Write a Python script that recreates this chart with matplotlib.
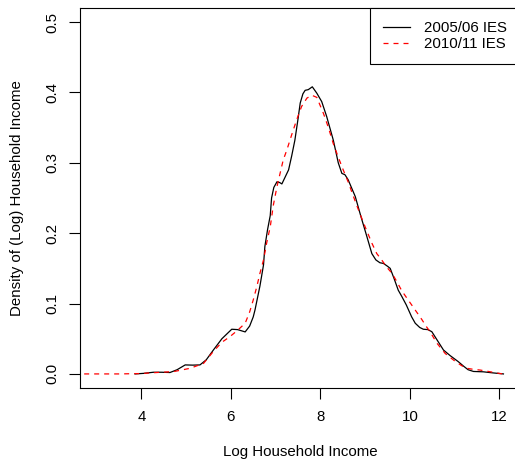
import matplotlib
matplotlib.use("Agg")
import matplotlib.pyplot as plt

plt.rcParams['font.family'] = ['Liberation Sans', 'DejaVu Sans']

# density of log household income
x_0506 = [3.86, 4.05, 4.27, 4.45, 4.64, 4.80, 4.98, 5.15, 5.31, 5.45, 5.61, 5.80,
          6.02, 6.15, 6.32, 6.42, 6.50, 6.54, 6.65, 6.73, 6.76, 6.82, 6.88, 6.91,
          6.96, 7.03, 7.09, 7.14, 7.20, 7.29, 7.36, 7.43, 7.50, 7.55, 7.61, 7.66,
          7.73, 7.82, 7.92, 8.03, 8.14, 8.29, 8.40, 8.48, 8.55, 8.62, 8.78, 8.90,
          9.04, 9.15, 9.24, 9.33, 9.41, 9.50, 9.56, 9.65, 9.74, 9.82, 9.92, 10.04,
          10.12, 10.22, 10.30, 10.40, 10.49, 10.62, 10.75, 10.90, 11.08, 11.20,
          11.30, 11.42, 11.64, 11.85, 12.09]
y_0506 = [0.0, 0.0008, 0.0024, 0.0024, 0.002, 0.006, 0.0128, 0.0125, 0.0128, 0.02,
          0.034, 0.050, 0.0635, 0.063, 0.0597, 0.068, 0.081, 0.091, 0.125, 0.155,
          0.181, 0.205, 0.225, 0.250, 0.265, 0.273, 0.272, 0.270, 0.278, 0.290,
          0.310, 0.332, 0.362, 0.385, 0.398, 0.403, 0.404, 0.408, 0.399, 0.387,
          0.366, 0.332, 0.300, 0.285, 0.283, 0.276, 0.252, 0.225, 0.195, 0.171,
          0.162, 0.158, 0.157, 0.153, 0.150, 0.135, 0.119, 0.110, 0.098, 0.081,
          0.072, 0.066, 0.0635, 0.063, 0.060, 0.047, 0.034, 0.026, 0.0175, 0.011,
          0.006, 0.0035, 0.0030, 0.0015, 0.0]

x_1011 = [2.5, 3.50, 3.97, 4.34, 4.72, 5.09, 5.39, 5.61, 5.80, 5.98, 6.15, 6.32,
          6.42, 6.50, 6.58, 6.65, 6.73, 6.80, 6.88, 6.95, 7.03, 7.10, 7.17, 7.25,
          7.36, 7.47, 7.58, 7.70, 7.81, 7.92, 8.07, 8.18, 8.29, 8.40, 8.51, 8.62,
          8.74, 8.87, 9.00, 9.15, 9.26, 9.37, 9.48, 9.60, 9.71, 9.82, 9.93, 10.04,
          10.15, 10.27, 10.36, 10.45, 10.60, 10.79, 11.01, 11.15, 11.27, 11.42,
          11.57, 11.80, 12.02, 12.12]
y_1011 = [0.0, 0.0, 0.0005, 0.002, 0.0033, 0.008, 0.015, 0.032, 0.045, 0.053, 0.062,
          0.072, 0.088, 0.105, 0.124, 0.143, 0.162, 0.186, 0.209, 0.240, 0.266,
          0.285, 0.304, 0.318, 0.340, 0.361, 0.380, 0.392, 0.396, 0.393, 0.370,
          0.350, 0.327, 0.308, 0.290, 0.273, 0.252, 0.230, 0.209, 0.186, 0.171,
          0.162, 0.152, 0.143, 0.131, 0.118, 0.108, 0.098, 0.088, 0.077, 0.068,
          0.060, 0.044, 0.029, 0.018, 0.012, 0.008, 0.0065, 0.0055, 0.003, 0.0005,
          0.0]

xticks = [4, 6, 8, 10, 12]
yticks = [0.0, 0.1, 0.2, 0.3, 0.4, 0.5]

fs = 10.8

fig = plt.figure(figsize=(5.15, 4.67), dpi=100)
# plot region runs a little past the right edge of the picture, as in the reference
ax = fig.add_axes([80 / 515, 79 / 467, 440 / 515, 380 / 467])

ax.plot(x_0506, y_0506, color='black', lw=0.9, label='2005/06 IES')
ax.plot(x_1011, y_1011, color='red', lw=0.9, linestyle=(0, (4, 4)), label='2010/11 IES')

ax.set_xlim(2.63, 12.46)
ax.set_ylim(-0.02, 0.52)
ax.set_xticks(xticks)
ax.set_yticks(yticks)
ax.set_yticklabels(['%.1f' % v for v in yticks])
ax.tick_params(labelsize=fs, length=8, width=0.8, direction='out')
ax.tick_params(axis='x', pad=8)
ax.tick_params(axis='y', pad=7)
plt.setp(ax.get_yticklabels(), rotation=90, va='center')
for s in ax.spines.values():
    s.set_linewidth(0.8)

ax.set_xlabel('Log Household Income', fontsize=fs, labelpad=15)
ax.set_ylabel('Density of (Log) Household Income', fontsize=fs, labelpad=15)

leg = ax.legend(loc='upper right', fontsize=fs, fancybox=False, edgecolor='black',
                framealpha=1, borderaxespad=0, borderpad=0.87, handlelength=1.8,
                handletextpad=0.93, labelspacing=0.15)
leg.get_frame().set_linewidth(0.8)

fig.savefig('out.png', dpi=100)
